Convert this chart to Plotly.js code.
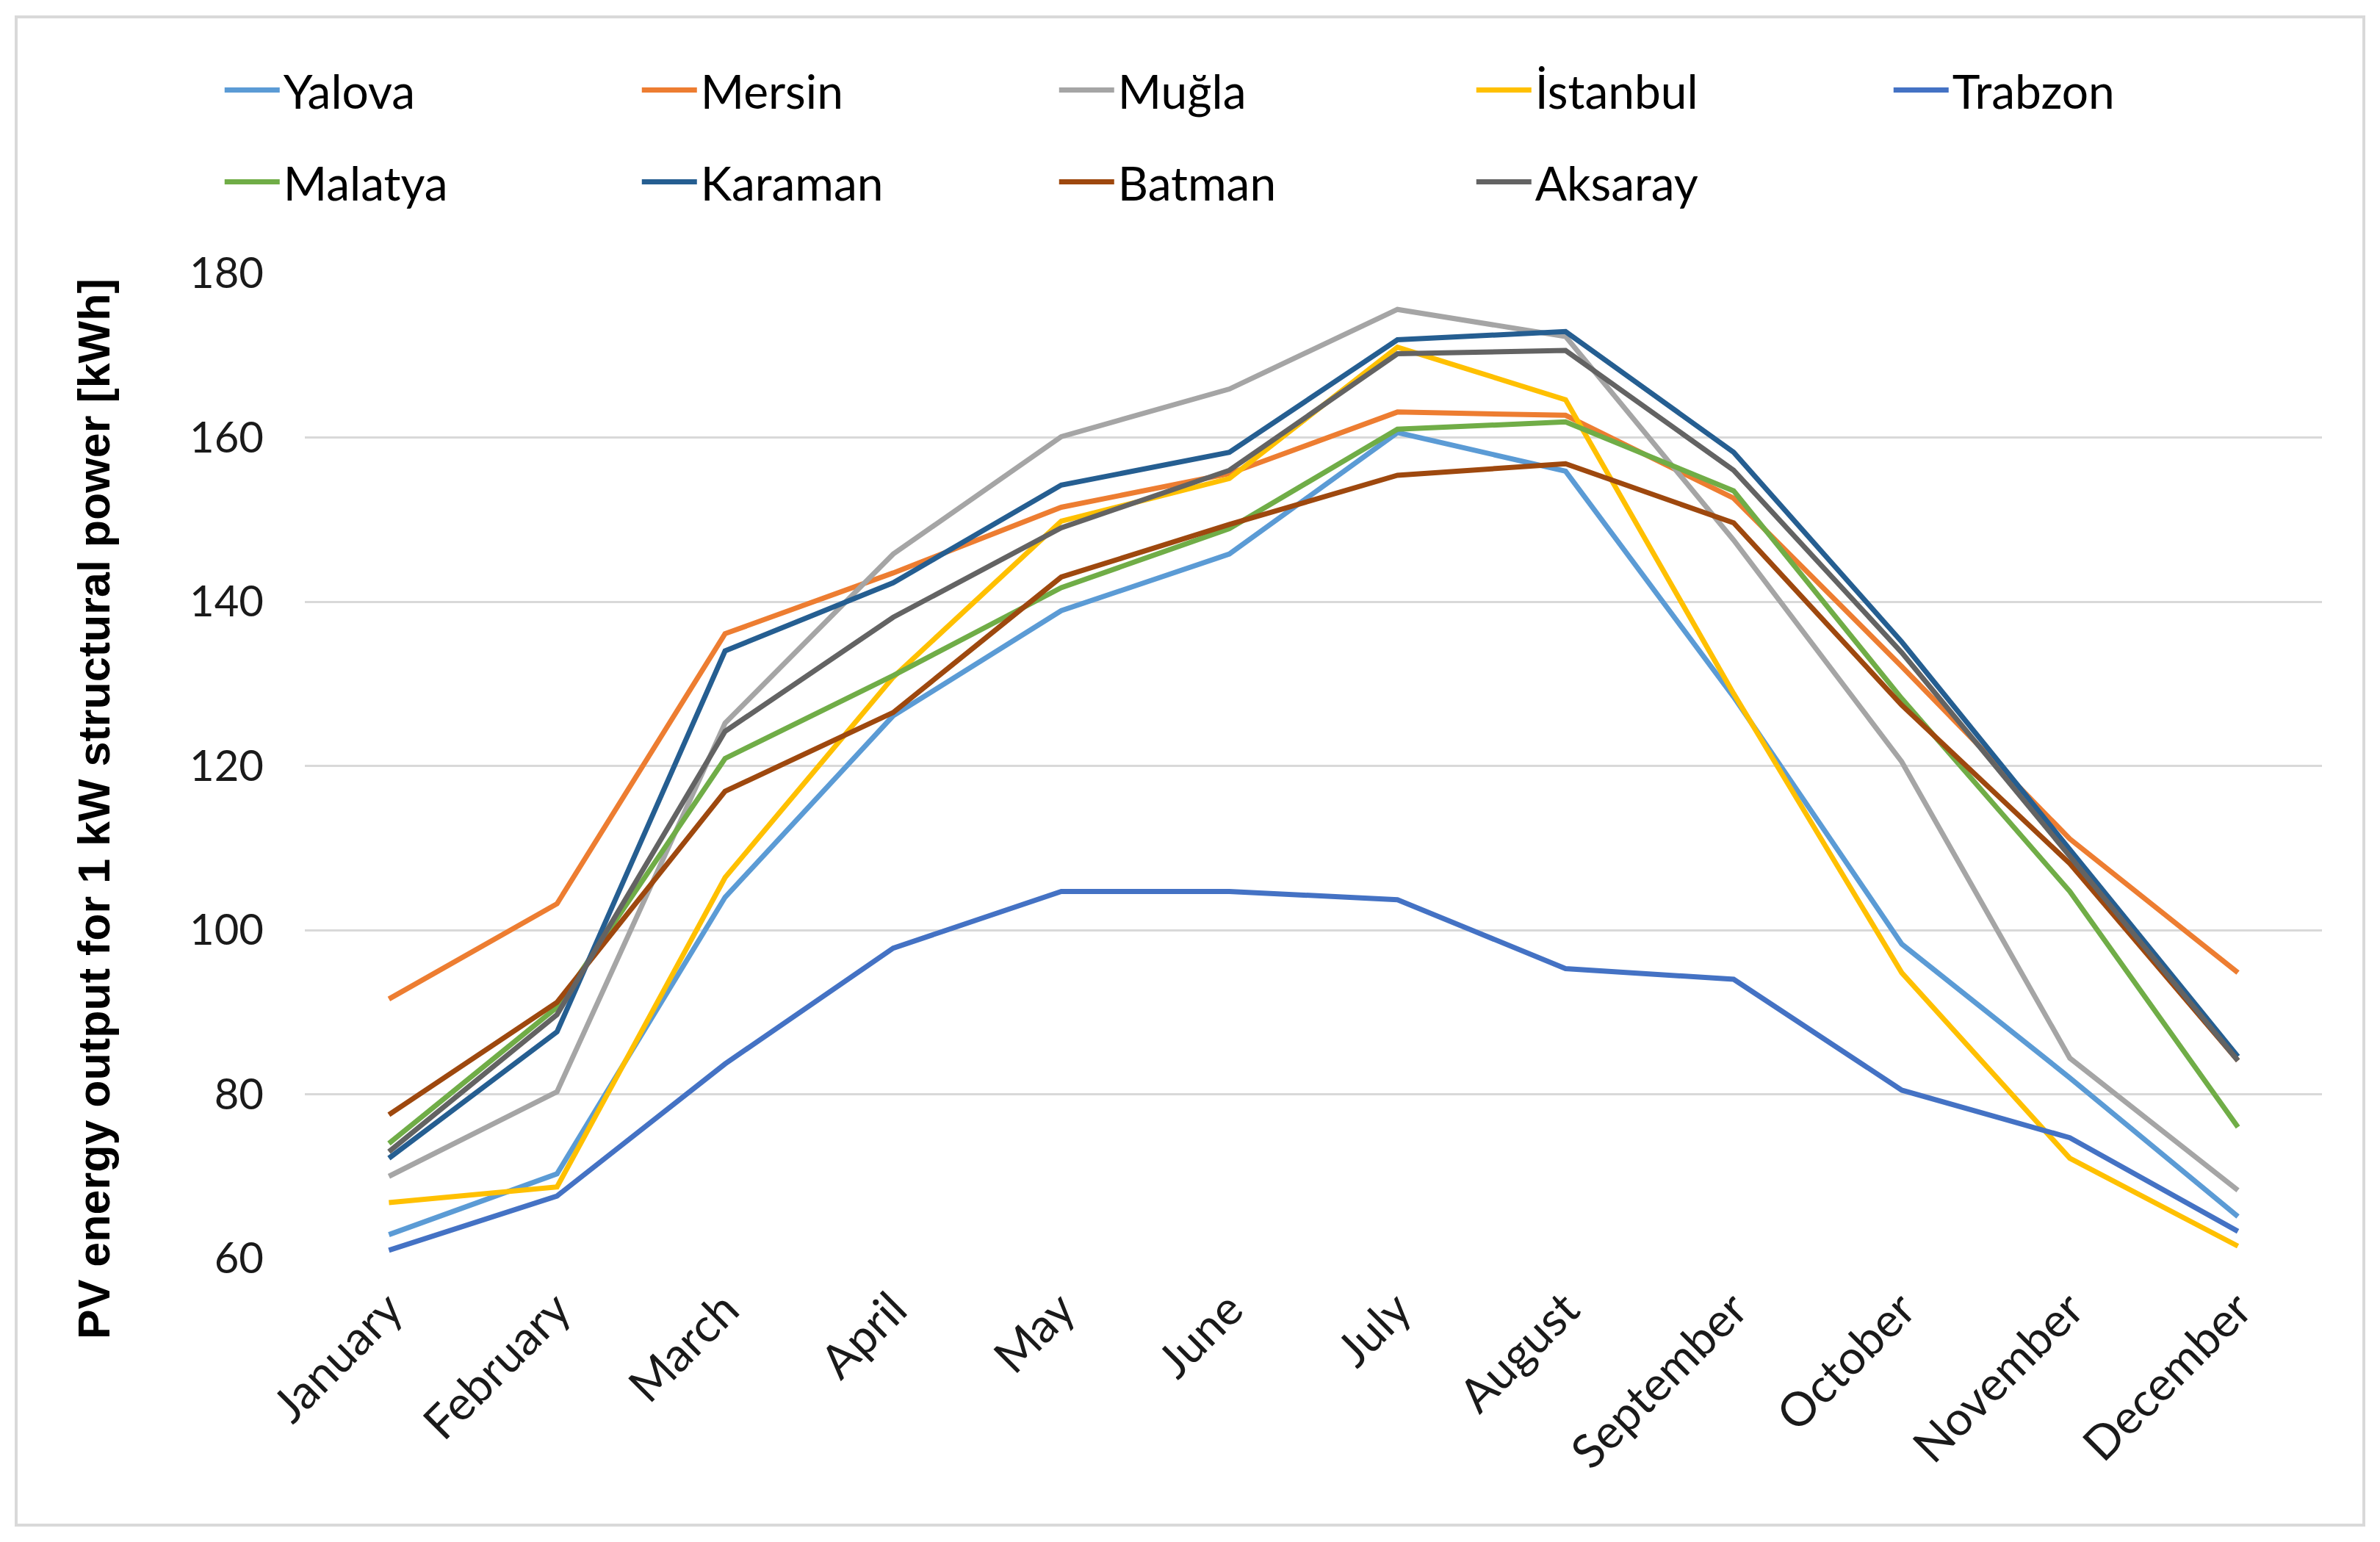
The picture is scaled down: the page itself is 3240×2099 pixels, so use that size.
<!DOCTYPE html>
<html>
<head>
<meta charset="utf-8">
<script src="https://cdn.plot.ly/plotly-3.0.1.min.js"></script>
<style>
  html, body { margin: 0; padding: 0; background: #ffffff; }
  #wrap { position: relative; width: 3240px; height: 2099px; }
  #chart { position: absolute; left: 0; top: 0; width: 3240px; height: 2099px; }
  #frame { position: absolute; left: 20px; top: 21px; width: 3192px; height: 2049px;
           border: 4px solid #d9d9d9; pointer-events: none; }
</style>
</head>
<body>
<div id="wrap">
  <div id="chart"></div>
  <div id="frame"></div>
</div>
<script>
// ---- data ----
const months = ["January", "February", "March", "April", "May", "June",
                "July", "August", "September", "October", "November", "December"];

const yalova   = [62.9, 70.3, 104.0, 126.1, 138.9, 145.8, 160.6, 155.9, 128.4, 98.3, 82.0, 65.1];
const mersin   = [91.6, 103.2, 136.1, 143.5, 151.5, 155.6, 163.1, 162.7, 152.6, 132.1, 111.1, 94.8];
const mugla    = [70.0, 80.3, 125.2, 145.8, 160.1, 165.9, 175.6, 172.3, 147.5, 120.5, 84.4, 68.3];
const istanbul = [66.8, 68.7, 106.4, 130.8, 149.8, 155.0, 171.0, 164.6, 128.8, 94.8, 72.2, 61.5];
const trabzon  = [61.0, 67.6, 83.7, 97.8, 104.7, 104.7, 103.7, 95.3, 94.0, 80.5, 74.7, 63.3];
const malatya  = [74.0, 90.6, 120.9, 131.0, 141.7, 148.9, 161.0, 161.9, 153.5, 128.2, 104.7, 76.0];
const karaman  = [72.2, 87.6, 134.0, 142.3, 154.2, 158.2, 171.9, 172.9, 158.2, 135.1, 109.8, 84.6];
const batman   = [77.5, 91.2, 116.9, 126.5, 143.0, 149.4, 155.4, 156.8, 149.6, 127.4, 108.1, 84.1];
const aksaray  = [73.0, 89.7, 124.2, 138.1, 149.0, 156.0, 170.2, 170.6, 156.0, 133.8, 109.0, 84.1];

const seriesNames  = ["Yalova", "Mersin", "Muğla", "İstanbul", "Trabzon",
                      "Malatya", "Karaman", "Batman", "Aksaray"];
const seriesValues = [yalova, mersin, mugla, istanbul, trabzon,
                      malatya, karaman, batman, aksaray];
const seriesColors = ["#5B9BD5", "#ED7D31", "#A5A5A5", "#FFC000", "#4472C4",
                      "#70AD47", "#255E91", "#9E480E", "#636363"];

const yTitle = "PV energy output for 1 kW structural power [kWh]";

// ---- traces ----
const traces = seriesNames.map((name, i) => ({
  type: "scatter",
  mode: "lines",
  name: name,
  x: months,
  y: seriesValues[i],
  line: { color: seriesColors[i], width: 7 },
  legend: i < 5 ? "legend" : "legend2",
  hoverinfo: "x+y+name"
}));

const textFont = "Lato, 'Open Sans', sans-serif";
const legendBase = {
  orientation: "h",
  xanchor: "left",
  yanchor: "middle",
  x: -0.0416,
  font: { family: textFont, size: 64, color: "#000000" },
  bgcolor: "rgba(0,0,0,0)",
  borderwidth: 0,
  entrywidth: 478,
  entrywidthmode: "pixels",
  itemwidth: 75,
  traceorder: "normal"
};

const layout = {
  width: 3240,
  height: 2099,
  paper_bgcolor: "#ffffff",
  plot_bgcolor: "#ffffff",
  margin: { l: 415, r: 79, t: 372, b: 386, autoexpand: false },
  showlegend: true,
  legend: Object.assign({}, legendBase, { y: 1.1857 }),
  legend2: Object.assign({}, legendBase, { y: 1.0925 }),
  xaxis: {
    type: "category",
    range: [-0.5, 11.5],
    showgrid: false,
    zeroline: false,
    showline: false,
    ticks: "",
    tickangle: -45,
    ticklabelstandoff: 18,
    tickfont: { family: textFont, size: 64, color: "#1a1a1a" }
  },
  yaxis: {
    range: [60, 180],
    dtick: 20,
    tick0: 60,
    showgrid: true,
    gridcolor: "#d9d9d9",
    gridwidth: 3,
    zeroline: false,
    showline: false,
    ticks: "",
    ticklabelstandoff: 55,
    tickfont: { family: textFont, size: 58, color: "#1a1a1a" }
  },
  annotations: [{
    text: yTitle,
    xref: "paper", yref: "paper",
    x: -0.1045, y: 0.4564,
    xanchor: "center", yanchor: "middle",
    textangle: -90,
    showarrow: false,
    font: { family: "'Liberation Sans', Arial, sans-serif", size: 61, weight: "bold", color: "#000000" }
  }]
};

Plotly.newPlot("chart", traces, layout, { staticPlot: true, displayModeBar: false });
</script>
</body>
</html>
